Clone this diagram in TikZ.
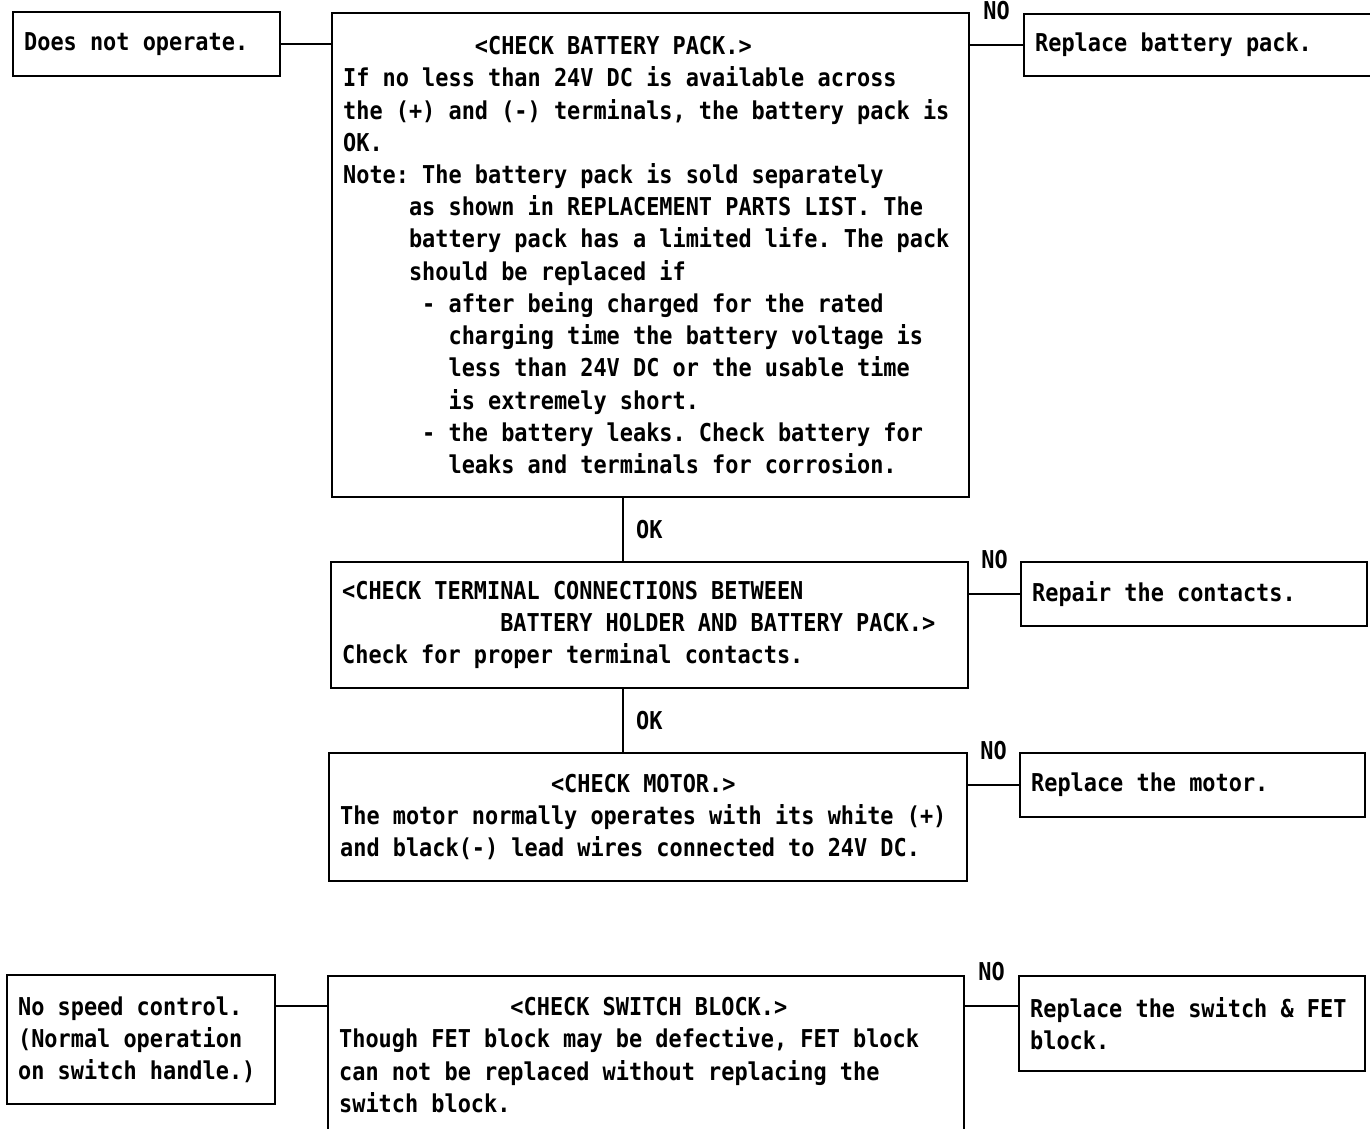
\documentclass[tikz,border=0pt]{standalone}
\usepackage{fontspec}
\newfontfamily\plotfont[FakeStretch=0.89]{DejaVu Sans Mono}
\newcommand{\pxu}{0.02cm}
\newcommand{\pad}[1]{\hspace*{#1\fontcharwd\font`0}}
\newcommand{\fixsp}{\spaceskip=\fontcharwd\font`0\relax \xspaceskip=\spaceskip \frenchspacing}

\begin{document}
\begin{tikzpicture}[x=\pxu, y=-\pxu,
                        box/.style={draw, rectangle, line width=1.3pt, anchor=north west, align=left,
                                    inner xsep=11*\pxu, inner ysep=0pt,
                                    font=\plotfont\bfseries\fontsize{14pt}{18.35pt}\selectfont,
                                    execute at begin node=\fixsp},
                        lbl/.style={inner sep=0pt, font=\plotfont\bfseries\fontsize{14pt}{18.35pt}\selectfont},
                        every edge/.style={draw, line width=1pt}]

                        \useasboundingbox (0,0) rectangle (1370,1129);
                        \clip (0,0) rectangle (1370,1129);

                        % Define nodes
                        \node[box, text width=245*\pxu, minimum height=64*\pxu] (start) at (12,11) {Does not operate.}; % Symptom 1
                        \node[box, text width=615*\pxu, minimum height=484*\pxu] (batt) at (331,12) {\pad{10}<CHECK BATTERY PACK.>\\
                            If no less than 24V DC is available across\\
                            the (+) and (-) terminals, the battery pack is\\
                            OK.\\
                            Note: The battery pack is sold separately\\
                            \pad{5}as shown in REPLACEMENT PARTS LIST. The\\
                            \pad{5}battery pack has a limited life. The pack\\
                            \pad{5}should be replaced if\\
                            \pad{6}- after being charged for the rated\\
                            \pad{8}charging time the battery voltage is\\
                            \pad{8}less than 24V DC or the usable time\\
                            \pad{8}is extremely short.\\
                            \pad{6}- the battery leaks. Check battery for\\
                            \pad{8}leaks and terminals for corrosion.}; % Check 1
                        \node[box, text width=338*\pxu, minimum height=62*\pxu] (repbatt) at (1023,13) {Replace battery pack.};
                        \node[box, text width=615*\pxu, minimum height=126*\pxu] (term) at (330,561) {<CHECK TERMINAL CONNECTIONS BETWEEN\\
                            \pad{12}BATTERY HOLDER AND BATTERY PACK.>\\
                            Check for proper terminal contacts.}; % Check 2
                        \node[box, text width=324*\pxu, minimum height=64*\pxu] (repcont) at (1020,561) {Repair the contacts.};
                        \node[box, text width=616*\pxu, minimum height=128*\pxu] (motor) at (328,752) {\pad{16}<CHECK MOTOR.>\\
                            The motor normally operates with its white (+)\\
                            and black(-) lead wires connected to 24V DC.}; % Check 3
                        \node[box, text width=323*\pxu, minimum height=64*\pxu] (repmot) at (1019,752) {Replace the motor.};
                        \node[box, text width=246*\pxu, minimum height=129*\pxu] (speed) at (6,974) {No speed control.\\
                            (Normal operation\\
                            on switch handle.)}; % Symptom 2
                        \node[box, text width=614*\pxu, minimum height=158*\pxu] (switch) at (327,975) {\pad{13}<CHECK SWITCH BLOCK.>\\
                            Though FET block may be defective, FET block\\
                            can not be replaced without replacing the\\
                            switch block.}; % Check 4
                        \node[box, text width=324*\pxu, minimum height=95*\pxu] (repsw) at (1018,975) {Replace the switch \& FET\\block.};

                        \coordinate (okx) at (623,0);
                        \coordinate (swy) at (0,1006);

                        % Define edges
                        \path (start) edge (start -| batt.west);
                        \path (batt.east |- repbatt) edge node[lbl, above=14pt] {NO} (repbatt);
                        \path (batt.south -| okx) edge node[lbl, right=7pt] {OK} (term.north -| okx);
                        \path (term.east |- repcont) edge node[lbl, above=14pt] {NO} (repcont);
                        \path (term.south -| okx) edge node[lbl, right=7pt] {OK} (motor.north -| okx);
                        \path (motor.east |- repmot) edge node[lbl, above=14pt] {NO} (repmot);
                        \path (speed.east |- swy) edge (switch.west |- swy);
                        \path (switch.east |- swy) edge node[lbl, above=14pt] {NO} (repsw.west |- swy);
                    \end{tikzpicture}
\end{document}
